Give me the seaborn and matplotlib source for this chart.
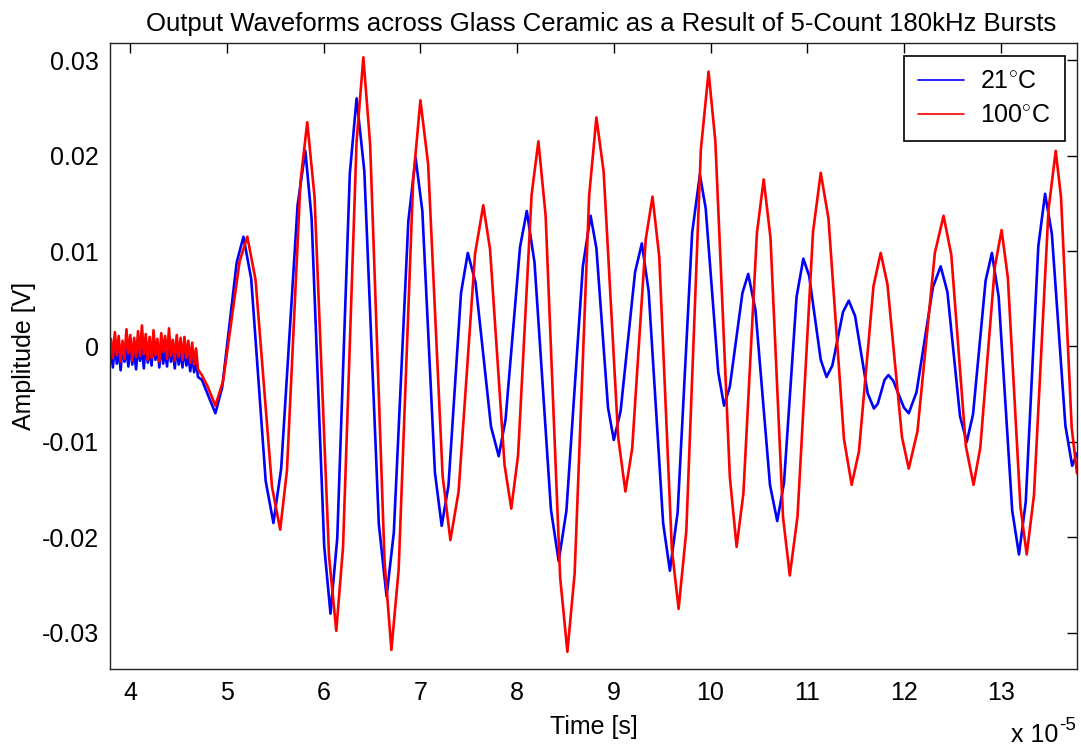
import numpy as np
import pandas as pd
import matplotlib
matplotlib.use("Agg")
import matplotlib.pyplot as plt
from matplotlib.ticker import FuncFormatter, FixedLocator
import seaborn as sns

# ---------------- data (time in units of 1e-5 s, amplitude in V) ----------------
labels = ["21$^{\\circ}$C", "100$^{\\circ}$C"]

# pre-trigger noise, sampled every 0.02e-5 s from 3.80 to 4.70
noise_t = np.round(np.arange(3.80, 4.7001, 0.02), 2)
blue_noise = [-0.0005, -0.0022, 0.0003, -0.0018, -0.0004, -0.0025, 0.0001, -0.0016,
              -0.0003, -0.0021, 0.0004, -0.0019, -0.0006, -0.0024, 0.0002, -0.0015,
              -0.0002, -0.0023, 0.0005, -0.0017, -0.0004, -0.0020, 0.0006, -0.0014,
              -0.0001, -0.0022, 0.0003, -0.0018, -0.0005, -0.0021, 0.0004, -0.0016,
              -0.0003, -0.0023, 0.0002, -0.0019, -0.0006, -0.0022, 0.0000, -0.0020,
              -0.0009, -0.0026, -0.0008, -0.0027, -0.0015, -0.0032]
red_noise = [0.0008, -0.0012, 0.0015, -0.0009, 0.0011, -0.0016, 0.0006, -0.0013,
             0.0018, -0.0007, 0.0012, -0.0015, 0.0009, -0.0011, 0.0016, -0.0010,
             0.0022, -0.0008, 0.0013, -0.0014, 0.0010, -0.0012, 0.0017, -0.0009,
             0.0008, -0.0016, 0.0014, -0.0006, 0.0011, -0.0013, 0.0019, -0.0010,
             0.0007, -0.0015, 0.0012, -0.0011, 0.0009, -0.0014, 0.0010, -0.0012,
             0.0006, -0.0017, 0.0004, -0.0019, -0.0002, -0.0024]

# burst response: peaks, troughs and flank (shoulder) points
blue_t = [4.74, 4.80, 4.88, 4.95, 5.10, 5.17, 5.25, 5.40, 5.48, 5.56, 5.73, 5.81,
          5.875, 6.005, 6.07, 6.14, 6.27, 6.34, 6.42, 6.57, 6.65, 6.725, 6.875, 6.95,
          7.02, 7.15, 7.22, 7.29, 7.42, 7.49, 7.57, 7.73, 7.81, 7.88, 8.03, 8.10,
          8.18, 8.35, 8.43, 8.51, 8.68, 8.76, 8.82, 8.94, 9.00, 9.07, 9.22, 9.29,
          9.36, 9.51, 9.58, 9.66, 9.81, 9.89, 9.95, 10.08, 10.14, 10.20, 10.33, 10.39,
          10.465, 10.615, 10.69, 10.76, 10.89, 10.96, 11.02, 11.14, 11.20, 11.26,
          11.37, 11.43, 11.495, 11.625, 11.69, 11.73, 11.80, 11.84, 11.89, 12.00,
          12.05, 12.13, 12.30, 12.38, 12.45, 12.58, 12.65, 12.715, 12.845, 12.91,
          12.98, 13.12, 13.19, 13.26, 13.39, 13.46, 13.53, 13.67, 13.74, 13.79]
blue_v = [-0.0035, -0.0050, -0.0070, -0.0043, 0.0088, 0.0115, 0.0071, -0.0141,
          -0.0185, -0.0128, 0.0148, 0.0205, 0.0134, -0.0209, -0.0280, -0.0201,
          0.0181, 0.0260, 0.0184, -0.0186, -0.0262, -0.0195, 0.0131, 0.0198,
          0.0142, -0.0132, -0.0188, -0.0146, 0.0056, 0.0098, 0.0067, -0.0084,
          -0.0115, -0.0077, 0.0104, 0.0142, 0.0088, -0.0171, -0.0225, -0.0172,
          0.0084, 0.0137, 0.0103, -0.0064, -0.0098, -0.0068, 0.0078, 0.0108,
          0.0058, -0.0185, -0.0235, -0.0174, 0.0119, 0.0180, 0.0145, -0.0027,
          -0.0062, -0.0042, 0.0056, 0.0076, 0.0038, -0.0145, -0.0183, -0.0143,
          0.0052, 0.0092, 0.0074, -0.0014, -0.0032, -0.0020, 0.0036, 0.0048,
          0.0032, -0.0049, -0.0065, -0.0060, -0.0035, -0.0030, -0.0036, -0.0064,
          -0.0070, -0.0048, 0.0062, 0.0084, 0.0057, -0.0073, -0.0100, -0.0071,
          0.0069, 0.0098, 0.0052, -0.0172, -0.0218, -0.0163, 0.0105, 0.0160,
          0.0118, -0.0083, -0.0125, -0.0112]

red_t = [4.74, 4.80, 4.88, 4.96, 5.13, 5.21, 5.295, 5.465, 5.55, 5.62, 5.76, 5.83,
         5.905, 6.055, 6.13, 6.20, 6.34, 6.41, 6.48, 6.63, 6.70, 6.775, 6.925, 7.00,
         7.08, 7.23, 7.31, 7.395, 7.565, 7.65, 7.72, 7.87, 7.94, 8.01, 8.15, 8.22,
         8.295, 8.445, 8.52, 8.595, 8.745, 8.82, 8.895, 9.045, 9.12, 9.19, 9.33, 9.40,
         9.47, 9.60, 9.67, 9.75, 9.90, 9.98, 10.05, 10.20, 10.27, 10.34, 10.48, 10.55,
         10.62, 10.75, 10.82, 10.90, 11.06, 11.14, 11.22, 11.38, 11.46, 11.535,
         11.685, 11.76, 11.83, 11.98, 12.05, 12.14, 12.32, 12.41, 12.49, 12.64,
         12.72, 12.79, 12.94, 13.01, 13.075, 13.205, 13.27, 13.345, 13.495, 13.57,
         13.625, 13.735, 13.79]
red_v = [-0.0030, -0.0042, -0.0062, -0.0036, 0.0089, 0.0115, 0.0070, -0.0147,
         -0.0192, -0.0130, 0.0173, 0.0235, 0.0157, -0.0220, -0.0298, -0.0210,
         0.0215, 0.0303, 0.0212, -0.0227, -0.0318, -0.0234, 0.0174, 0.0258,
         0.0191, -0.0136, -0.0203, -0.0152, 0.0097, 0.0148, 0.0102, -0.0124,
         -0.0170, -0.0114, 0.0159, 0.0215, 0.0137, -0.0242, -0.0320, -0.0238,
         0.0158, 0.0240, 0.0183, -0.0095, -0.0152, -0.0107, 0.0112, 0.0157,
         0.0094, -0.0212, -0.0275, -0.0193, 0.0206, 0.0288, 0.0215, -0.0137,
         -0.0210, -0.0154, 0.0119, 0.0175, 0.0114, -0.0179, -0.0240, -0.0178,
         0.0120, 0.0182, 0.0134, -0.0097, -0.0145, -0.0110, 0.0063, 0.0098,
         0.0065, -0.0095, -0.0128, -0.0089, 0.0098, 0.0137, 0.0096, -0.0104,
         -0.0145, -0.0106, 0.0083, 0.0122, 0.0072, -0.0168, -0.0218, -0.0156,
         0.0143, 0.0205, 0.0156, -0.0085, -0.0133]

x_ticks = [4, 5, 6, 7, 8, 9, 10, 11, 12, 13]
y_ticks = [-0.03, -0.02, -0.01, 0, 0.01, 0.02, 0.03]

# ---------------- build table ----------------
frames = []
for lab, nt, nv, t, v in [(labels[0], noise_t, blue_noise, blue_t, blue_v),
                          (labels[1], noise_t, red_noise, red_t, red_v)]:
    tt = list(nt) + list(t)
    vv = list(nv) + list(v)
    frames.append(pd.DataFrame({"t": tt, "v": vv, "series": lab}))
df = pd.concat(frames, ignore_index=True)

# ---------------- style ----------------
sns.set_theme(style="white")
plt.rcParams["font.family"] = ["Liberation Sans", "DejaVu Sans"]
plt.rcParams["mathtext.fontset"] = "custom"
plt.rcParams["mathtext.rm"] = "Liberation Sans"
plt.rcParams["axes.unicode_minus"] = False
plt.rcParams["text.color"] = "black"
plt.rcParams["axes.labelcolor"] = "black"

FS = 18

fig = plt.figure(figsize=(10.81, 7.53), dpi=100)
ax = fig.add_axes([110 / 1081, 1 - 669 / 753, (1077 - 110) / 1081, (669 - 43) / 753])

sns.lineplot(data=df, x="t", y="v", hue="series", hue_order=labels,
             palette=["#0000ff", "#ff0000"], sort=False, estimator=None,
             linewidth=1.9, ax=ax, legend=True)

ax.set_xlim(3.79, 13.79)
ax.set_ylim(-0.0338, 0.0318)
ax.xaxis.set_major_locator(FixedLocator(x_ticks))
ax.yaxis.set_major_locator(FixedLocator(y_ticks))
ax.xaxis.set_major_formatter(FuncFormatter(lambda v, p: f"{v:g}"))
ax.yaxis.set_major_formatter(FuncFormatter(lambda v, p: "0" if abs(v) < 1e-12 else f"{v:g}"))
ax.tick_params(direction="in", length=7, width=1, top=True, right=True,
               labelsize=FS, colors="black")
ax.tick_params(axis="x", pad=9)
ax.tick_params(axis="y", pad=8)
for s in ax.spines.values():
    s.set_visible(True)
    s.set_color("#222222")
    s.set_linewidth(1.0)

ax.set_xlabel("Time [s]", fontsize=FS, labelpad=7, color="black")
ax.set_ylabel("Amplitude [V]", fontsize=FS, labelpad=4, color="black")
ax.set_title("Output Waveforms across Glass Ceramic as a Result of 5-Count 180kHz Bursts",
             fontsize=18.5, pad=9, x=0.508, color="black")

fig.text(1058 / 1081, 1 - 747 / 753, "x 10", fontsize=FS, ha="right", va="bottom",
         color="black")
fig.text(1059 / 1081, 1 - 734 / 753, "-5", fontsize=13.5, ha="left", va="bottom",
         color="black")

# legend (MATLAB style)
handles, labs = ax.get_legend_handles_labels()
leg = ax.legend(handles, labs, loc="upper right", fontsize=FS, frameon=True,
                fancybox=False, edgecolor="black", framealpha=1,
                handlelength=1.85, handletextpad=0.65, borderpad=0.55,
                labelspacing=0.4, borderaxespad=0.5)
leg.get_frame().set_linewidth(1.2)
for h in leg.get_lines():
    h.set_linewidth(1.2)
for txt in leg.get_texts():
    txt.set_color("black")

fig.savefig("out.png", dpi=100)
